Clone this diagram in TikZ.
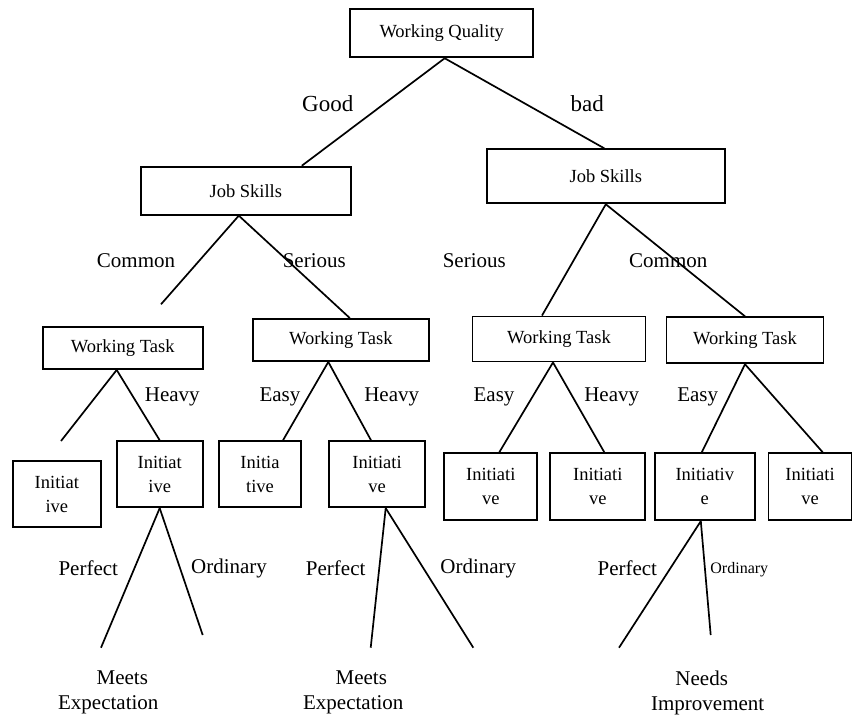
\documentclass[tikz,border=0pt]{standalone}
\usepackage{fontspec}
\setmainfont{Liberation Serif}

\tikzset{
	box/.style={draw, line width=1.9pt, inner sep=0pt, align=center, font=\fontsize{18.5}{24}\selectfont},
	lbl/.style={inner sep=0pt, align=center, font=\fontsize{21}{25}\selectfont},
	branch/.style={line width=1.7pt}
}

\begin{document}
\begin{tikzpicture}[x=1pt, y=-1pt]
 \useasboundingbox (0,0) rectangle (853,715);

	% Boxes
 \node[box, minimum width=183pt, minimum height=48pt] (q) at (441.7,33.3) {Working Quality};
 \node[box, minimum width=210pt, minimum height=48pt] (js1) at (245.8,190.7) {Job Skills};
 \node[box, minimum width=238pt, minimum height=54pt] (js2) at (605.8,176.3) {Job Skills};

 \node[box, minimum width=160pt, minimum height=42pt] (wt1) at (122.7,348) {Working Task};
 \node[box, minimum width=176pt, minimum height=42pt] (wt2) at (340.8,340) {Working Task};
 \node[box, minimum width=173pt, minimum height=45pt] (wt3) at (559,339) {Working Task};
 \node[box, minimum width=157pt, minimum height=46pt] (wt4) at (745,340.3) {Working Task};

 \node[box, minimum width=88pt, minimum height=66pt] (i1) at (56.8,494.2) {Initiat\\ive};
 \node[box, minimum width=86pt, minimum height=66pt] (i2) at (159.7,474.2) {Initiat\\ive};
 \node[box, minimum width=82pt, minimum height=66pt] (i3) at (260,474.2) {Initia\\tive};
 \node[box, minimum width=96pt, minimum height=66pt] (i4) at (377,474.2) {Initiati\\ve};
 \node[box, minimum width=93pt, minimum height=67pt] (i5) at (490.8,486.7) {Initiati\\ve};
 \node[box, minimum width=95pt, minimum height=67pt] (i6) at (597.8,486.7) {Initiati\\ve};
 \node[box, minimum width=100pt, minimum height=67pt] (i7) at (704.8,486.7) {Initiativ\\e};
 \node[box, minimum width=83pt, minimum height=67pt] (i8) at (810,486.7) {Initiati\\ve};

	% Loose ends
 \coordinate (c1) at (161,304.3);
 \coordinate (e1) at (61,441);
 \coordinate (p1) at (101,647.7);
 \coordinate (o1) at (202.7,635);
 \coordinate (p2) at (370.7,647.7);
 \coordinate (o2) at (473.3,647.7);
 \coordinate (p3) at (619,647.7);
 \coordinate (o3) at (710.7,635);

	% Branches
 \draw[branch] ([xshift=3pt]q.south) -- ([xshift=56pt]js1.north);
 \draw[branch] ([xshift=3pt]q.south) -- ([xshift=-1.5pt]js2.north);

 \draw[branch] ([xshift=-7pt]js1.south) -- (c1);
 \draw[branch] ([xshift=-7pt]js1.south) -- ([xshift=9pt]wt2.north);
 \draw[branch] (js2.south) -- ([xshift=-17pt]wt3.north);
 \draw[branch] (js2.south) -- (wt4.north);

 \draw[branch] ([xshift=-6pt]wt1.south) -- (e1);
 \draw[branch] ([xshift=-6pt]wt1.south) -- (i2.north);
 \draw[branch] ([xshift=-12.5pt]wt2.south) -- ([xshift=23pt]i3.north);
 \draw[branch] ([xshift=-12.5pt]wt2.south) -- ([xshift=-6pt]i4.north);
 \draw[branch] ([xshift=-6pt]wt3.south) -- ([xshift=8.5pt]i5.north);
 \draw[branch] ([xshift=-6pt]wt3.south) -- ([xshift=6.5pt]i6.north);
 \draw[branch] (wt4.south) -- ([xshift=-3pt]i7.north);
 \draw[branch] (wt4.south) -- ([xshift=12.7pt]i8.north);

 \draw[branch] (i2.south) -- (p1);
 \draw[branch] (i2.south) -- (o1);
 \draw[branch] ([xshift=8.7pt]i4.south) -- (p2);
 \draw[branch] ([xshift=8.7pt]i4.south) -- (o2);
 \draw[branch] ([xshift=-4pt]i7.south) -- (p3);
 \draw[branch] ([xshift=-4pt]i7.south) -- (o3);

	% Labels
 \node[lbl, font=\fontsize{23}{27}\selectfont] (good) at (327.7,103.3) {Good};
 \node[lbl, font=\fontsize{23}{27}\selectfont] (bad) at (587.3,103.3) {bad};

 \node[lbl] (com1) at (136,261) {Common};
 \node[lbl] (ser1) at (314.3,261) {Serious};
 \node[lbl] (ser2) at (474.3,261) {Serious};
 \node[lbl] (com2) at (668.3,261) {Common};

 \node[lbl] (hv1) at (172.3,396.7) {Heavy};
 \node[lbl] (es2) at (280,396.7) {Easy};
 \node[lbl] (hv2) at (391.7,396.7) {Heavy};
 \node[lbl] (es3) at (494,396.7) {Easy};
 \node[lbl] (hv3) at (611.7,396.7) {Heavy};
 \node[lbl] (es4) at (697.7,396.7) {Easy};

 \node[lbl] (pf1) at (88.3,568.3) {Perfect};
 \node[lbl] (od1) at (229,568.3) {Ordinary};
 \node[lbl] (pf2) at (335.7,568.3) {Perfect};
 \node[lbl] (od2) at (478.3,568.3) {Ordinary};
 \node[lbl] (pf3) at (627.3,568.3) {Perfect};
 \node[lbl, font=\fontsize{16}{19}\selectfont] (od3) at (739.3,570) {Ordinary};

 \node[lbl] (res1) at (108.3,692.5) {\hspace*{28pt}Meets\\Expectation};
 \node[lbl] (res2) at (353.3,692.5) {\hspace*{16pt}Meets\\Expectation};
 \node[lbl] (res3) at (707.7,692.5) {Needs\hspace*{12pt}\\Improvement};

\end{tikzpicture}
\end{document}
